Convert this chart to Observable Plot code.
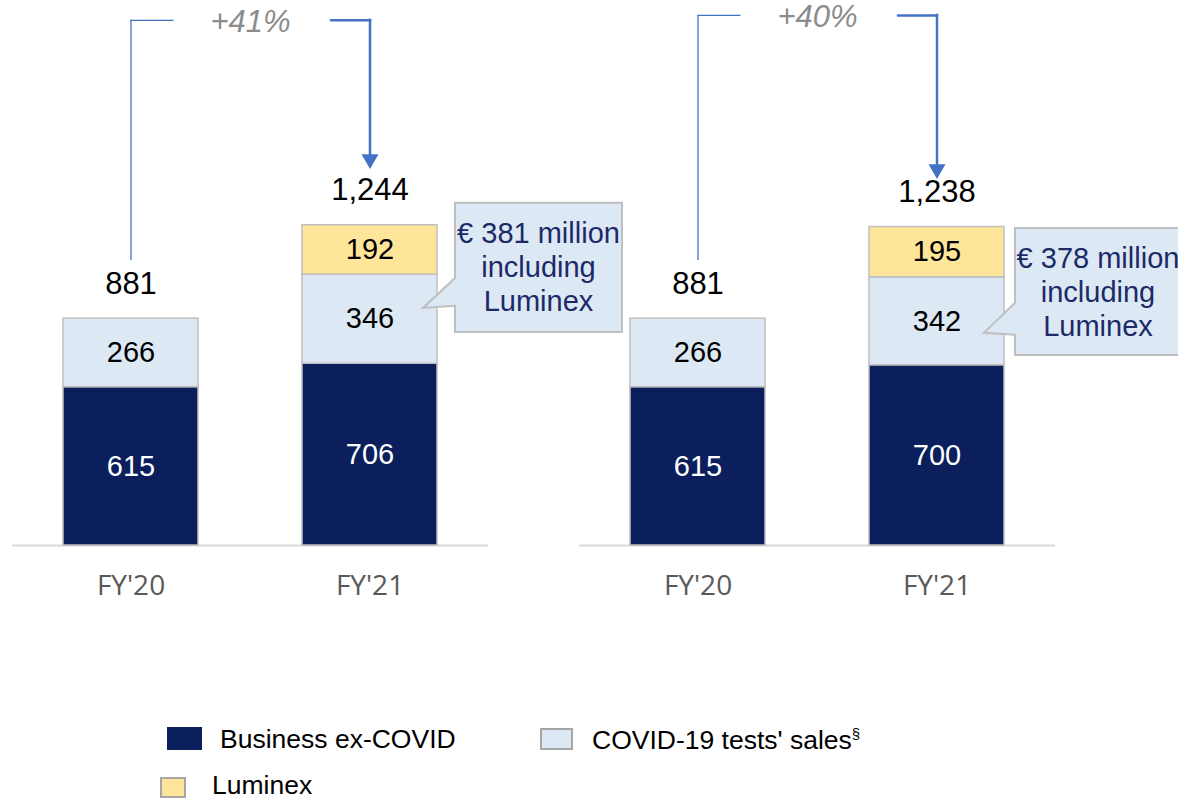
<!DOCTYPE html>
<html><head><meta charset="utf-8">
<script src="https://cdn.jsdelivr.net/npm/d3@7"></script>
<script src="https://cdn.jsdelivr.net/npm/@observablehq/plot@0.6"></script>
<style>
body{margin:0;background:#fff;}
#wrap{position:relative;width:1178px;height:799px;font-family:"Liberation Sans",Arial,sans-serif;overflow:hidden;background:#fff}
.leg{position:absolute;font-size:26.5px;color:#000;line-height:1;white-space:nowrap}
.sw{position:absolute;box-sizing:border-box}
</style></head><body><div id="wrap"></div>
<script>
// ---- data ----
const panels = ["left", "right"];
const years = ["FY'20", "FY'21"];
const seriesNames = ["Business ex-COVID", "COVID-19 tests' sales", "Luminex"];
const businessExCovid = [[615, 706], [615, 700]];
const covidTests = [[266, 346], [266, 342]];
const luminex = [[0, 192], [0, 195]];
const totals = [[881, 1244], [881, 1238]];
const growthLabels = ["+41%", "+40%"];
const calloutLines = [["€ 381 million", "including", "Luminex"], ["€ 378 million", "including", "Luminex"]];

// ---- style ----
const seriesColors = ["#0a1f5c", "#dde8f5", "#ffe599"];
const blue = "#4472c4";
const mLeft = 12;

const rows = [];
panels.forEach((p, i) => years.forEach((yr, j) => {
  [businessExCovid, covidTests, luminex].forEach((arr, k) => {
    if (arr[i][j] > 0) rows.push({panel: p, year: yr, series: seriesNames[k], value: arr[i][j]});
  });
}));
const totalRows = [];
panels.forEach((p, i) => years.forEach((yr, j) => totalRows.push({panel: p, year: yr, total: totals[i][j]})));
// annotation levels (in y units) per panel
const bracket = panels.map((p, i) => ({
  panel: p, label: growthLabels[i],
  top: [2040, 2059][i], bottom: 1107, tip: [1501, 1462][i]
}));

const fmt = d3.format(",");
const plot = Plot.plot({
  width: 1178, height: 640,
  marginLeft: mLeft, marginRight: 123, marginTop: 0, marginBottom: 95,
  fx: {domain: panels, axis: null, paddingInner: 0.1605, paddingOuter: 0, label: null},
  x: {domain: years, paddingInner: 0.435, paddingOuter: 0.211, label: null},
  y: {domain: [0, 2117], axis: null},
  color: {domain: seriesNames, range: seriesColors},
  style: {fontFamily: "'Liberation Sans', Arial, sans-serif", background: "white"},
  marks: [
    Plot.ruleY([0], {stroke: "#d9d9d9", strokeWidth: 2}),
    Plot.barY(rows, {fx: "panel", x: "year", y: "value", fill: "series", order: seriesNames, stroke: "#bfbfbf", strokeWidth: 1.5}),
    Plot.text(rows, Plot.stackY({fx: "panel", x: "year", y: "value", z: "series", order: seriesNames,
      text: d => d.series === seriesNames[0] ? String(d.value) : null, fill: "white", fontSize: 29})),
    Plot.text(rows, Plot.stackY({fx: "panel", x: "year", y: "value", z: "series", order: seriesNames,
      text: d => d.series !== seriesNames[0] ? String(d.value) : null, fill: "black", fontSize: 29})),
    Plot.text(totalRows, {fx: "panel", x: "year", y: "total", text: d => fmt(d.total), dy: -35, fontSize: 31, fill: "black"}),
    Plot.axisX({tickSize: 0, tickPadding: 30, fontSize: 28, fill: "#595959", fontFamily: "'Open Sans', sans-serif", label: null}),
    // growth brackets
    Plot.ruleX(bracket, {fx: "panel", x: () => years[0], y1: "bottom", y2: "top", stroke: blue, strokeWidth: 1.3}),
    Plot.arrow(bracket, {fx: "panel", x1: () => years[0], x2: () => years[1], y1: "top", y2: "top", insetEnd: 197, headLength: 0, bend: 0, stroke: blue, strokeWidth: 1.3}),
    Plot.arrow(bracket, {fx: "panel", x1: () => years[0], x2: () => years[1], y1: "top", y2: "top", insetStart: 200, headLength: 0, bend: 0, stroke: blue, strokeWidth: 2.5}),
    Plot.ruleX(bracket, {fx: "panel", x: () => years[1], y1: "top", y2: "tip", stroke: blue, strokeWidth: 2.5, strokeLinecap: "square"}),
    Plot.dot(bracket, {fx: "panel", x: () => years[1], y: "tip", symbol: "triangle", rotate: 180, r: 6.3, fill: blue, stroke: null}),
    Plot.text(bracket, {fx: "panel", y: "top", text: "label", fontSize: 31, fontStyle: "italic", fill: "#8c8c8c", dy: 2})
  ]
});

const wrap = document.getElementById("wrap");
wrap.appendChild(plot);

// ---- callouts, positioned with the plot's scales ----
const sx = plot.scale("x"), sy = plot.scale("y"), sfx = plot.scale("fx");
const svg = d3.select(plot);
const calloutGeom = [
  {dx0: 18, dx1: 185, top: 1329, bottom: 827, baseUp: 1037, baseLow: 929, tipDx: -14, tip: 921},
  {dx0: 11, dx1: 177, top: 1231, bottom: 738, baseUp: 941, baseLow: 817, tipDx: -20, tip: 824}
];
panels.forEach((p, i) => {
  const g = calloutGeom[i];
  const R = sfx.apply(p) - mLeft + sx.apply(years[1]) + sx.bandwidth;
  const x0 = R + g.dx0, x1 = R + g.dx1;
  const y0 = sy.apply(g.top), y1 = sy.apply(g.bottom);
  const path = `M${x0},${y0}H${x1}V${y1}H${x0}V${sy.apply(g.baseLow)}L${R + g.tipDx},${sy.apply(g.tip)}L${x0},${sy.apply(g.baseUp)}Z`;
  svg.append("path").attr("d", path).attr("fill", "#dde8f5").attr("stroke", "#bfbfbf").attr("stroke-width", 2);
  const cy = (y0 + y1) / 2, lh = 34;
  calloutLines[i].forEach((t, k) => {
    svg.append("text").attr("x", (x0 + x1) / 2).attr("y", cy + (k - 1) * lh)
      .attr("text-anchor", "middle").attr("dominant-baseline", "central")
      .attr("font-size", 29).attr("fill", "#1c2a68").text(t);
  });
});

// ---- legend ----
const legendItems = [
  {name: seriesNames[0], color: seriesColors[0], sw: [167, 727, 35, 23, false], tx: [220, 740]},
  {name: seriesNames[1], color: seriesColors[1], sw: [540, 728, 33, 22, true], tx: [592, 740], sup: "§"},
  {name: seriesNames[2], color: seriesColors[2], sw: [160, 777, 26, 21, true], tx: [212, 786]}
];
legendItems.forEach(it => {
  const s = document.createElement("div");
  s.className = "sw";
  Object.assign(s.style, {left: it.sw[0] + "px", top: it.sw[1] + "px", width: it.sw[2] + "px", height: it.sw[3] + "px",
    background: it.color, border: it.sw[4] ? "2px solid #a6a6a6" : "none"});
  wrap.appendChild(s);
  const t = document.createElement("div");
  t.className = "leg";
  t.style.left = it.tx[0] + "px";
  t.style.top = (it.tx[1] - 14) + "px";
  t.textContent = it.name;
  if (it.sup) { const sp = document.createElement("sup"); sp.textContent = it.sup; sp.style.fontSize = "15px"; t.appendChild(sp); }
  wrap.appendChild(t);
});
</script></body></html>
